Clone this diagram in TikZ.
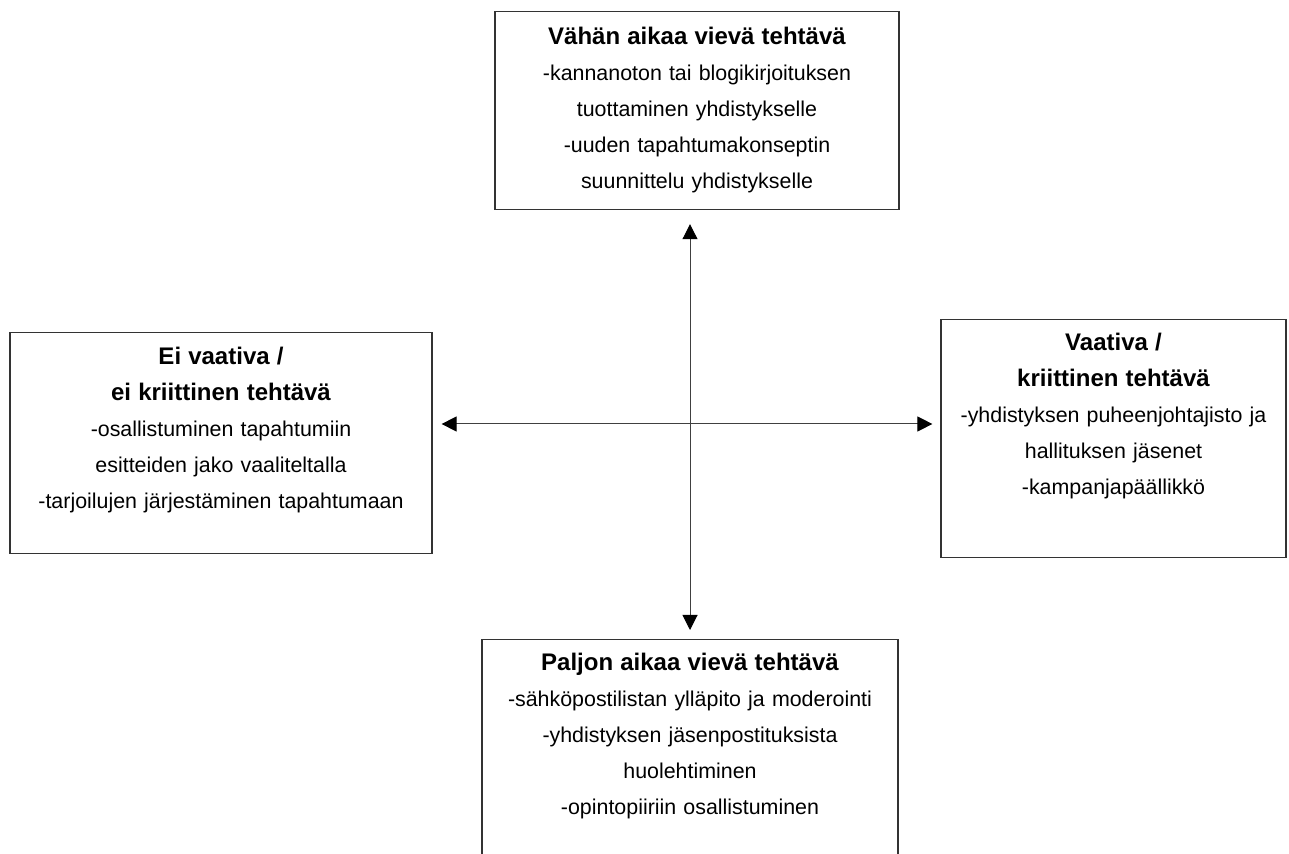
\documentclass[tikz,border=0pt]{standalone}
\usepackage{fontspec}
\setmainfont{Liberation Sans}
\usetikzlibrary{arrows.meta}

\begin{document}
\begin{tikzpicture}[x=0.5pt,y=-0.5pt,>={Triangle[length=7.5pt,width=7.5pt,color=black]}]
  \tikzstyle{task}=[draw=black!80, line width=0.6pt, anchor=north, inner sep=0pt,
    align=center, font=\fontsize{10.7}{18}\selectfont]
  \tikzstyle{axis}=[<->, draw=black!75, line width=0.5pt]
  \useasboundingbox (0,0) rectangle (1289,854);

  \node[task, text width=202pt, text height=16.5pt, text depth=82.5pt] (short) at (697,11)
    {\textbf{\large Vähän aikaa vievä tehtävä}\\
     -kannanoton tai blogikirjoituksen\\
     tuottaminen yhdistykselle\\
     -uuden tapahtumakonseptin\\
     suunnittelu yhdistykselle};
  \node[task, text width=211pt, text height=16pt, text depth=94.5pt] (easy) at (221,332)
    {\textbf{\large Ei vaativa /}\\
     \textbf{\large ei kriittinen tehtävä}\\
     -osallistuminen tapahtumiin\\
     esitteiden jako vaaliteltalla\\
     -tarjoilujen järjestäminen tapahtumaan};
  \node[task, text width=172.5pt, text height=15.5pt, text depth=103.5pt] (hard) at (1113.5,319)
    {\textbf{\large Vaativa /}\\
     \textbf{\large kriittinen tehtävä}\\
     -yhdistyksen puheenjohtajisto ja\\
     hallituksen jäsenet\\
     -kampanjapäällikkö};
  \node[task, text width=208pt, text height=15.5pt, text depth=120pt] (long) at (690,639)
    {\textbf{\large Paljon aikaa vievä tehtävä}\\
     -sähköpostilistan ylläpito ja moderointi\\
     -yhdistyksen jäsenpostituksista\\
     huolehtiminen\\
     -opintopiiriin osallistuminen};

  % axes
  \coordinate (cross) at (690,424);
  \draw[axis, shorten <=7pt, shorten >=4.5pt] (long.north |- short.south) -- (long.north);
  \draw[axis, shorten <=4.5pt, shorten >=4pt] (easy.east |- cross) -- (hard.west |- cross);
\end{tikzpicture}
\end{document}
